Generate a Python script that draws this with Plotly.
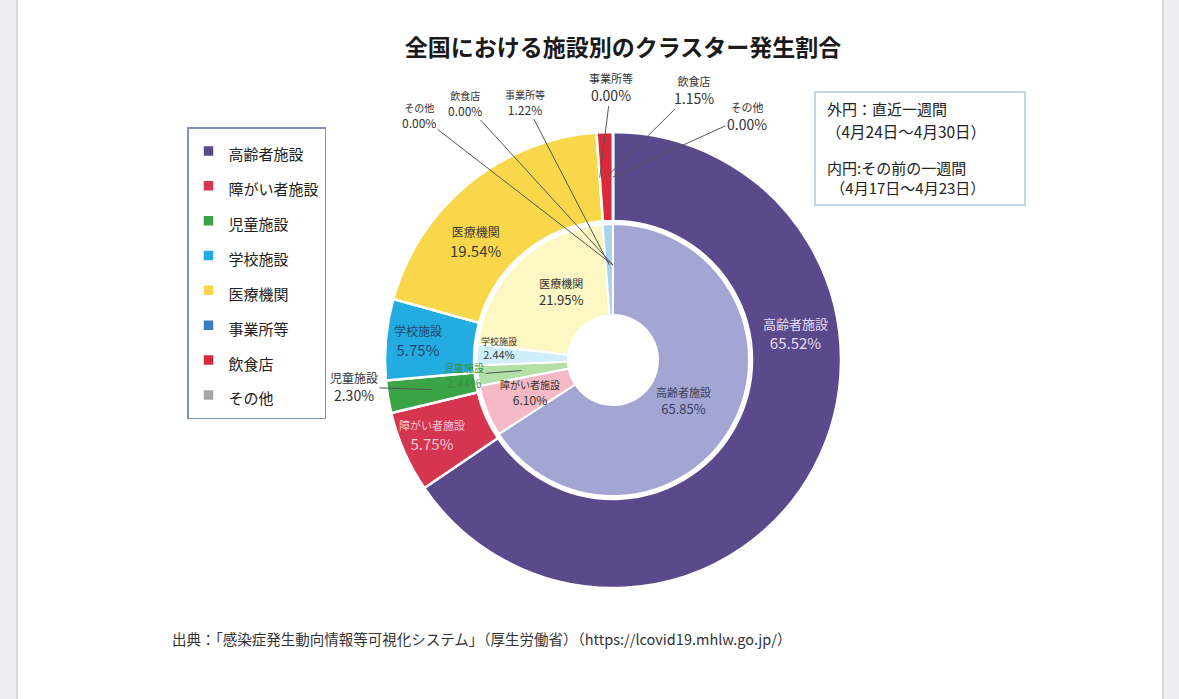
import math
import plotly.graph_objects as go

# カテゴリと割合 (%)
categories = ["高齢者施設", "障がい者施設", "児童施設", "学校施設", "医療機関", "事業所等", "飲食店", "その他"]
outer_pct = [65.52, 5.75, 2.30, 5.75, 19.54, 0.00, 1.15, 0.00]   # 外円: 直近一週間
inner_pct = [65.85, 6.10, 2.44, 2.44, 21.95, 1.22, 0.00, 0.00]   # 内円: その前の一週間

title_text = "全国における施設別のクラスター発生割合"
outer_period = ["外円：直近一週間", "（4月24日～4月30日）"]
inner_period = ["内円:その前の一週間", "（4月17日～4月23日）"]
source_text = "出典：「感染症発生動向情報等可視化システム」（厚生労働省）（https://lcovid19.mhlw.go.jp/）"

# 色
outer_colors = ["#5b4a8b", "#d5354f", "#3aa447", "#22ace2", "#f8d84a", "#3b7cc0", "#d9293b", "#a6a6a6"]
inner_colors = ["#a3a6d2", "#f5b9c6", "#b3e0a6", "#cdeefa", "#fdf7c4", "#a9d3ef", "#f0a0a8", "#d8d8d8"]

FONT = "Noto Sans CJK JP"
W, H = 1179, 699
CX, CY = 613, 360          # 円の中心 (px)
R_OUT, R_IN, HOLE_OUT, HOLE_IN = 228, 136, 139, 45


def fx(x):
    return x / W


def fy(y):
    return 1 - y / H


def mid_point(values, i, r):
    # スライス中央の角度 (12時から時計回り)
    cum = sum(values[:i]) + values[i] / 2
    a = math.radians(cum / sum(values) * 360)
    return CX + r * math.sin(a), CY - r * math.cos(a)


fig = go.Figure()

fig.add_trace(go.Pie(
    labels=['<span style="font-size:15px">' + c + "</span>" for c in categories],
    values=outer_pct, sort=False, direction="clockwise", rotation=0,
    hole=HOLE_OUT / R_OUT, textinfo="none",
    marker=dict(colors=outer_colors, line=dict(color="white", width=2.5)),
    domain=dict(x=[fx(CX - R_OUT), fx(CX + R_OUT)], y=[fy(CY + R_OUT), fy(CY - R_OUT)]),
    showlegend=True, hoverinfo="label+value",
))
fig.add_trace(go.Pie(
    labels=categories, values=inner_pct, sort=False, direction="clockwise", rotation=0,
    hole=HOLE_IN / R_IN, textinfo="none",
    marker=dict(colors=inner_colors, line=dict(color="white", width=2)),
    domain=dict(x=[fx(CX - R_IN), fx(CX + R_IN)], y=[fy(CY + R_IN), fy(CY - R_IN)]),
    showlegend=False, hoverinfo="label+value",
))

# ラベル位置 (px), 色, 文字サイズ, 引出線の半径
outer_lbl = [
    ((795, 333), "#e2def2", 13, 15, None),
    ((432, 435), "#f6cad4", 11, 15, None),
    ((354, 387), "#333333", 12, 14, 183),
    ((418, 341), "#24456b", 12, 15, None),
    ((475, 242), "#3a3a3a", 12, 15, None),
    ((611, 87), "#333333", 11, 14, 183),
    ((694, 90), "#333333", 11, 14, 183),
    ((747, 116), "#333333", 11, 14, 183),
]
inner_lbl = [
    ((683, 401), "#3b3f5e", 11, 13, None),
    ((530, 392), "#333333", 10, 12, None),
    ((464, 375), "#3c8f42", 10, 12, 92),
    ((499, 348), "#333333", 9, 11, None),
    ((561, 292), "#333333", 11, 13, None),
    ((525, 102), "#333333", 10, 12, 95),
    ((465, 103), "#333333", 10, 12, 95),
    ((419, 115), "#333333", 10, 12, 95),
]

annotations = []
for vals, specs in [(outer_pct, outer_lbl), (inner_pct, inner_lbl)]:
    for i, ((tx, ty), col, s1, s2, r) in enumerate(specs):
        txt = '<span style="font-size:%dpx">%s</span><br>%.2f%%' % (s1, categories[i], vals[i])
        if r is None:
            annotations.append(dict(x=fx(tx), y=fy(ty), xref="paper", yref="paper", text=txt,
                                    xanchor="center", yanchor="middle", showarrow=False,
                                    font=dict(family=FONT, size=s2, color=col)))
        else:
            px, py = mid_point(vals, i, r)
            annotations.append(dict(x=fx(px), y=fy(py), xref="paper", yref="paper", text=txt,
                                    showarrow=True, arrowhead=0, arrowwidth=1, arrowcolor="#555555",
                                    ax=tx - px, ay=ty - py,
                                    font=dict(family=FONT, size=s2, color=col)))

# 外円/内円の説明
annotations.append(dict(x=fx(825), y=fy(108), xref="paper", yref="paper", text=outer_period[0],
                        xanchor="left", yanchor="middle", showarrow=False,
                        font=dict(family=FONT, size=15, color="#222222")))
annotations.append(dict(x=fx(824), y=fy(131), xref="paper", yref="paper", text=outer_period[1],
                        xanchor="left", yanchor="middle", showarrow=False,
                        font=dict(family=FONT, size=15.5, color="#222222")))
annotations.append(dict(x=fx(825), y=fy(177), xref="paper", yref="paper",
                        text=inner_period[0] + "<br>&nbsp;" + inner_period[1],
                        xanchor="left", yanchor="middle", align="left", showarrow=False,
                        font=dict(family=FONT, size=15, color="#222222")))

annotations.append(dict(x=fx(170), y=fy(638), xref="paper", yref="paper", text=source_text,
                        xanchor="left", yanchor="middle", showarrow=False,
                        font=dict(family=FONT, size=14.5, color="#333333")))

fig.update_layout(
    width=W, height=H,
    margin=dict(l=0, r=0, t=0, b=0),
    paper_bgcolor="#eeeef3",
    plot_bgcolor="white",
    font=dict(family=FONT, color="#222222"),
    title=dict(text="<b>" + title_text + "</b>", x=fx(623), y=fy(48), xanchor="center", yanchor="middle",
               font=dict(family=FONT, size=23, color="#1a1a1a")),
    legend=dict(x=fx(187), y=fy(127), xanchor="left", yanchor="top",
                bordercolor="#7f93b8", borderwidth=1.5, bgcolor="white",
                font=dict(family=FONT, size=24.5, color="#222222")),
    shapes=[
        dict(type="rect", xref="paper", yref="paper", x0=fx(17), x1=fx(1163), y0=-0.01, y1=1.01,
             fillcolor="white", line=dict(color="#d6d6db", width=2), layer="below"),
        dict(type="rect", xref="paper", yref="paper", x0=fx(815), x1=fx(1025), y0=fy(205), y1=fy(92),
             fillcolor="white", line=dict(color="#a9c9dd", width=1.5), layer="below"),
    ],
    annotations=annotations,
)

fig.write_html("out.html", config={"displayModeBar": False},
               post_script="document.body.style.margin='0';document.body.style.overflow='hidden';")
